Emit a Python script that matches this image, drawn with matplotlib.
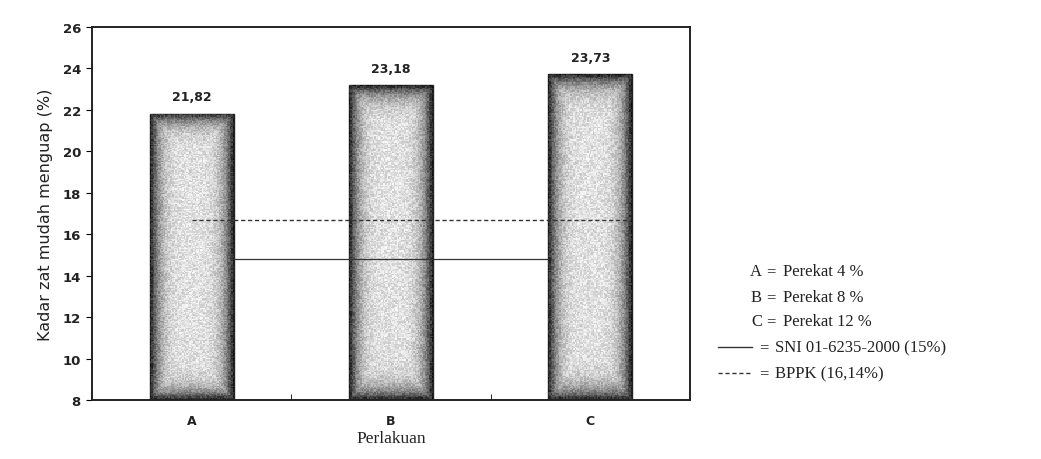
import numpy as np
import matplotlib
matplotlib.use("Agg")
import matplotlib.pyplot as plt

categories = ["A", "B", "C"]
values = [21.82, 23.18, 23.73]
value_labels = ["21,82", "23,18", "23,73"]
sni_level = 14.8      # solid line as drawn
bppk_level = 16.7     # dashed line as drawn
yticks = [8, 10, 12, 14, 16, 18, 20, 22, 24, 26]
legend_rows = ["Perekat 4 %", "Perekat 8 %", "Perekat 12 %"]
legend_lines = ["SNI 01-6235-2000 (15%)", "BPPK (16,14%)"]

fig = plt.figure(figsize=(10.41, 4.60), dpi=100)
ax = fig.add_axes([92/1041, 1 - 401/460, (690-92)/1041, (401-28)/460])

base = 8
x = np.arange(len(categories))
width = 0.42
heights = [v - base for v in values]
bars = ax.bar(x, heights, width=width, bottom=base, color="#c8c8c8",
              edgecolor="#222222", linewidth=1.0, zorder=2)

# stippled gradient fill (dark edges, light centre), deterministic texture
nx, ny = 60, 240
jj, ii = np.meshgrid(np.arange(nx), np.arange(ny))
for k, b in enumerate(bars):
    x0, y0 = b.get_x(), b.get_y()
    w, h = b.get_width(), b.get_height()
    gx = np.abs(np.linspace(-1, 1, nx))[None, :]
    gy = np.abs(np.linspace(-1, 1, ny))[:, None]
    d = np.maximum(gx ** 4, gy ** 14)
    t = np.sin((ii + 37 * k) * 12.9898 + jj * 78.233) * 43758.5453
    stipple = (t - np.floor(t)) - 0.5
    img = 0.88 - 0.75 * d + 0.2 * stipple
    im = ax.imshow(np.clip(img, 0, 1), cmap="gray", vmin=0, vmax=1,
                   aspect="auto", extent=[x0, x0 + w, y0, y0 + h],
                   zorder=2.5, interpolation="nearest")
    im.set_clip_path(b)

for xi, v, lab in zip(x, values, value_labels):
    ax.text(xi, v + 0.5, lab, ha="center", va="bottom", fontsize=9,
            fontweight="bold", color="#222222", family="DejaVu Sans")

ax.plot([0, 2.2], [bppk_level, bppk_level], ls=(0, (3, 2)), color="#333333",
        lw=1.0, zorder=3)
ax.plot([width / 2, 2 - width / 2], [sni_level, sni_level], ls="-",
        color="#333333", lw=0.9, zorder=3)

ax.set_xlim(-0.5, 2.5)
ax.set_ylim(8, 26)
ax.set_yticks(yticks)
ax.set_yticklabels([str(t) for t in yticks], fontsize=9.5, fontweight="bold",
                   color="#222222")
ax.set_xticks(x)
ax.set_xticklabels(categories, fontsize=9, fontweight="bold", color="#222222")
ax.tick_params(axis="x", length=0, pad=10)
ax.set_xticks([0.5, 1.5], minor=True)
ax.tick_params(axis="x", which="minor", length=4, direction="in")
ax.tick_params(axis="y", length=4, direction="out", pad=4)
for s in ax.spines.values():
    s.set_linewidth(1.4)
    s.set_color("#222222")

ax.set_ylabel("Kadar zat mudah menguap (%)", fontsize=11.5, color="#222222",
              labelpad=7)
ax.set_xlabel("Perlakuan", fontsize=12.5, family="Liberation Serif",
              color="#222222", labelpad=2)

# text legend on the right
def fy(py):
    return 1 - py / 460

def fx(px):
    return px / 1041

ser = dict(family="Liberation Serif", fontsize=12, color="#222222",
           va="center")
rows_y = [272, 298, 322]
for cat, txt, py in zip(categories, legend_rows, rows_y):
    fig.text(fx(762), fy(py), cat, ha="right", **ser)
    fig.text(fx(766), fy(py), "=", ha="left", **ser)
    fig.text(fx(783), fy(py), txt, ha="left", **ser)

line_y = [348, 374]
styles = ["-", (0, (3, 2))]
for txt, py, st in zip(legend_lines, line_y, styles):
    fig.add_artist(plt.Line2D([fx(718), fx(752)], [fy(py), fy(py)],
                              ls=st, color="#333333", lw=1.0))
    fig.text(fx(759), fy(py), "=", ha="left", **ser)
    fig.text(fx(775), fy(py), txt, ha="left", **ser)

fig.savefig("out.png", dpi=100)
